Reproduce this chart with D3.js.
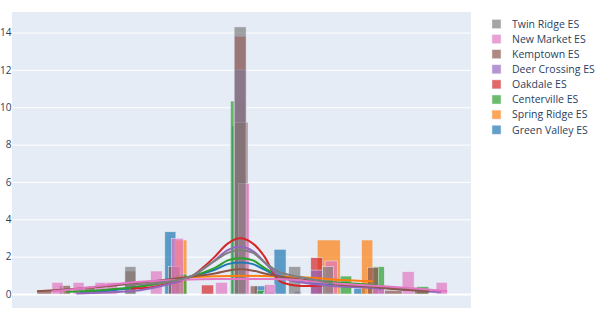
<!DOCTYPE html>
<html>
<head>
<meta charset="utf-8">
<script src="https://cdn.jsdelivr.net/npm/d3@7"></script>
<style>
  body { margin: 0; background: #fff; }
  svg { display: block; font-family: "Open Sans", sans-serif; }
</style>
</head>
<body>
<svg width="600" height="317"></svg>
<script>
// schools in trace order (first drawn at bottom)
const schools = ["Green Valley ES", "Spring Ridge ES", "Centerville ES", "Oakdale ES",
  "Deer Crossing ES", "Kemptown ES", "New Market ES", "Twin Ridge ES"];
const colors = ["#1f77b4", "#ff7f0e", "#2ca02c", "#d62728", "#9467bd", "#8c564b", "#e377c2", "#7f7f7f"];
const yTicks = [0, 2, 4, 6, 8, 10, 12, 14];

// histogram bins: [start, end, density]
const binsGreenValley = [[33.3, 35.7, 3.33], [47.9, 50.4, 9.0], [52.9, 55.4, 0.43], [57.1, 59.7, 2.39], [74.5, 77.0, 0.3]];
const binsSpringRidge = [[35.5, 38.1, 2.89], [66.5, 71.5, 2.89], [76.2, 78.6, 2.89]];
const binsCenterville = [[35.6, 38.1, 1.07], [47.6, 51.0, 10.33], [53.3, 55.5, 0.2], [71.5, 74.0, 0.96], [78.7, 81.1, 1.46], [88.2, 90.8, 0.39]];
const binsOakdale = [[41.3, 43.9, 0.48], [48.4, 51.0, 13.8], [65.1, 67.7, 1.94]];
const binsDeerCrossing = [[48.4, 51.0, 12.0], [54.8, 57.3, 0.1], [61.5, 63.0, 0.15], [65.1, 67.7, 1.28], [78.7, 81.1, 0.3]];
const binsKemptown = [[5.45, 8.7, 0.2], [10.3, 12.7, 0.45], [15.7, 18.1, 0.4], [24.6, 27.0, 1.23], [34.1, 36.6, 1.46],
  [48.4, 51.4, 9.2], [51.9, 53.5, 0.43], [77.4, 79.8, 1.43], [81.1, 85.0, 0.2], [87.6, 90.8, 0.2]];
const binsNewMarket = [[8.7, 11.1, 0.62], [13.3, 15.7, 0.62], [18.1, 20.5, 0.62], [20.5, 23.0, 0.62], [30.2, 32.7, 1.23],
  [34.8, 37.3, 2.98], [44.4, 46.9, 0.62], [49.3, 51.7, 5.92], [55.0, 57.3, 0.5], [68.2, 70.9, 1.77],
  [78.6, 81.1, 0.4], [85.0, 87.6, 1.19], [92.4, 94.8, 0.62]];
const binsTwinRidge = [[24.6, 27.0, 1.46], [48.4, 51.0, 14.3], [60.3, 62.9, 1.46], [67.7, 70.0, 1.46]];

// density curves: [x, density]
const kdeGreenValley = [[14.8, 0.05], [20, 0.15], [27.9, 0.4], [33, 0.65], [38.8, 0.92], [44.2, 1.3], [47, 1.6], [49.7, 1.68],
  [52.5, 1.6], [55, 1.3], [58, 0.95], [60.6, 0.8], [66, 0.6], [71.5, 0.5], [76, 0.4], [80.4, 0.3]];
const kdeSpringRidge = [[35.5, 0.85], [38.8, 0.9], [44.2, 0.95], [49.7, 0.98], [55, 0.96], [60.6, 0.92], [66, 0.85], [71.5, 0.75], [78.6, 0.68]];
const kdeCenterville = [[11.8, 0.12], [20, 0.22], [27.9, 0.4], [33, 0.6], [38.8, 0.92], [44.2, 1.4], [47, 1.8], [49.7, 1.91],
  [52.5, 1.8], [55, 1.4], [58, 1.0], [60.6, 0.8], [66, 0.7], [71.5, 0.6], [78, 0.5], [82, 0.35], [90.8, 0.15]];
const kdeOakdale = [[26, 0.3], [30, 0.35], [35, 0.6], [39, 0.92], [42, 1.5], [44.2, 2.0], [47, 2.7], [49.7, 2.98],
  [52.5, 2.7], [55, 2.0], [57, 1.1], [58.5, 0.66], [60.6, 0.5], [63, 0.43], [67.7, 0.45]];
const kdeDeerCrossing = [[14, 0.03], [20, 0.08], [27.9, 0.2], [33, 0.45], [38.8, 0.9], [42, 1.4], [44.2, 1.8], [47, 2.35], [49.7, 2.53],
  [52.5, 2.3], [55, 1.7], [58, 1.0], [60.6, 0.73], [65, 0.55], [71.5, 0.4], [82, 0.3], [90, 0.15], [93.5, 0.1]];
const kdeKemptown = [[5.45, 0.15], [10, 0.22], [15, 0.3], [20, 0.4], [27.9, 0.6], [33, 0.75], [38.8, 0.92], [44.2, 1.1], [47, 1.25],
  [49.7, 1.32], [52.5, 1.25], [55, 1.1], [58, 0.95], [60.6, 0.85], [66, 0.7], [71.5, 0.5], [78, 0.4], [82, 0.3], [91, 0.15]];
const kdeNewMarket = [[8.7, 0.15], [15, 0.3], [20, 0.45], [27.9, 0.65], [33, 0.72], [38.8, 0.78], [44.2, 0.8], [49.7, 0.8],
  [55, 0.8], [60.6, 0.77], [66, 0.65], [71.5, 0.55], [78, 0.45], [82, 0.4], [90, 0.25], [94.8, 0.15]];
const kdeTwinRidge = [[24.6, 0.45], [30, 0.55], [35, 0.7], [39, 0.95], [44, 1.75], [47, 2.2], [49.7, 2.35],
  [52.5, 2.2], [55, 1.7], [58, 1.2], [61, 0.99], [65, 0.8], [70, 0.55]];

const allBins = [binsGreenValley, binsSpringRidge, binsCenterville, binsOakdale, binsDeerCrossing, binsKemptown, binsNewMarket, binsTwinRidge];
const allKde = [kdeGreenValley, kdeSpringRidge, kdeCenterville, kdeOakdale, kdeDeerCrossing, kdeKemptown, kdeNewMarket, kdeTwinRidge];

const plotLeft = 12, plotRight = 471, plotTop = 12, plotBottom = 308;

const svg = d3.select("svg");

const x = d3.scaleLinear().domain([0, 100]).range([plotLeft, plotRight]);
const y = d3.scaleLinear().domain([-0.75, 15.1]).range([plotBottom, plotTop]);

svg.append("rect")
  .attr("x", plotLeft).attr("y", plotTop)
  .attr("width", plotRight - plotLeft).attr("height", plotBottom - plotTop)
  .attr("fill", "#e5ecf6");

// grid
const grid = svg.append("g")
  .attr("transform", `translate(${plotLeft}, 0)`)
  .call(d3.axisLeft(y).tickValues(yTicks).tickSize(-(plotRight - plotLeft)).tickFormat(""));
grid.select(".domain").remove();
grid.selectAll("line")
  .attr("stroke", "#fff")
  .attr("stroke-width", d => d === 0 ? 2 : 1);

// labels
const yAxis = svg.append("g")
  .attr("transform", `translate(${plotLeft}, 0)`)
  .call(d3.axisLeft(y).tickValues(yTicks).tickSize(0).tickPadding(0.5));
yAxis.select(".domain").remove();
yAxis.selectAll("text")
  .attr("fill", "#2a3f5f")
  .style("font-size", "10px")
  .style("font-family", "'Open Sans', sans-serif");

// histograms
allBins.forEach((bins, i) => {
  svg.append("g")
    .selectAll("rect")
    .data(bins)
    .enter()
    .append("rect")
    .attr("x", d => x(d[0]))
    .attr("y", d => y(d[2]))
    .attr("width", d => x(d[1]) - x(d[0]))
    .attr("height", d => y(0) - y(d[2]))
    .attr("fill", colors[i])
    .attr("fill-opacity", 0.7)
    .attr("stroke", "#e5ecf6")
    .attr("stroke-width", 0.5);
});

// density curves
const line = d3.line()
  .x(d => x(d[0]))
  .y(d => y(d[1]))
  .curve(d3.curveCatmullRom);

allKde.forEach((pts, i) => {
  svg.append("path")
    .datum(pts)
    .attr("d", line)
    .attr("fill", "none")
    .attr("stroke", colors[i])
    .attr("stroke-width", 2);
});

// legend (reversed)
const legend = svg.append("g").attr("transform", "translate(492, 24)");
const order = d3.range(schools.length).reverse();
order.forEach((idx, k) => {
  const row = legend.append("g").attr("transform", `translate(0, ${k * 15.1})`);
  row.append("rect")
    .attr("x", 0).attr("y", -4.5)
    .attr("width", 9).attr("height", 9)
    .attr("fill", colors[idx])
    .attr("fill-opacity", 0.7)
    .attr("stroke", "#e5ecf6")
    .attr("stroke-width", 0.5);
  row.append("text")
    .attr("x", 20).attr("y", 3.8)
    .attr("fill", "#2a3f5f")
    .style("font-size", "10.5px")
    .text(schools[idx]);
});
</script>
</body>
</html>
